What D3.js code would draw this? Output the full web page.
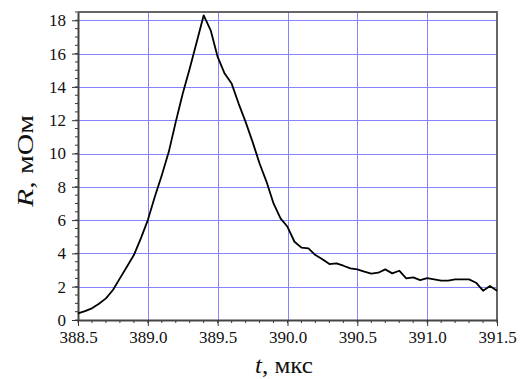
<!DOCTYPE html>
<html>
<head>
<meta charset="utf-8">
<script src="https://cdn.jsdelivr.net/npm/d3@7"></script>
<style>
  html, body { margin: 0; padding: 0; background: #fff; }
  svg text { font-family: "Liberation Serif", "Times New Roman", serif; fill: #111; }
</style>
</head>
<body>
<svg id="chart" width="528" height="379"></svg>
<script>
// Resistance pulse R(t), sampled every 0.05 µs
const times = [
  388.50, 388.55, 388.60, 388.65, 388.70, 388.75, 388.80, 388.85, 388.90, 388.95,
  389.00, 389.05, 389.10, 389.15, 389.20, 389.25, 389.30, 389.35, 389.40, 389.45,
  389.50, 389.55, 389.60, 389.65, 389.70, 389.75, 389.80, 389.85, 389.90, 389.95,
  390.00, 390.05, 390.10, 390.15, 390.20, 390.25, 390.30, 390.35, 390.40, 390.45,
  390.50, 390.55, 390.60, 390.65, 390.70, 390.75, 390.80, 390.85, 390.90, 390.95,
  391.00, 391.05, 391.10, 391.15, 391.20, 391.25, 391.30, 391.35, 391.40, 391.45,
  391.50
];
const resistance = [
  0.40, 0.53, 0.70, 0.98, 1.30, 1.80, 2.50, 3.20, 3.90, 4.90,
  6.00, 7.40, 8.70, 10.10, 11.90, 13.60, 15.10, 16.70, 18.30, 17.40,
  15.80, 14.80, 14.20, 13.00, 11.90, 10.70, 9.40, 8.30, 7.00, 6.10,
  5.60, 4.70, 4.35, 4.30, 3.90, 3.65, 3.36, 3.40, 3.26, 3.10,
  3.04, 2.90, 2.78, 2.84, 3.04, 2.80, 2.96, 2.50, 2.56, 2.40,
  2.52, 2.44, 2.36, 2.36, 2.44, 2.44, 2.44, 2.24, 1.76, 2.04,
  1.76
];
const xTicks = [388.5, 389.0, 389.5, 390.0, 390.5, 391.0, 391.5];
const yTicks = [0, 2, 4, 6, 8, 10, 12, 14, 16, 18];
const xLabel = ["t", ", мкс"];
const yLabel = ["R", ", мОм"];

const serif = "'Liberation Serif', 'Times New Roman', serif";
const svg = d3.select("#chart");
const plotL = 78, plotR = 497, plotT = 12, plotB = 320;

const x = d3.scaleLinear().domain([388.5, 391.5]).range([plotL, plotR]);
const y = d3.scaleLinear().domain([0, 18.5]).range([plotB, plotT]);

// grid
const grid = svg.append("g").attr("stroke", "#8585ff").attr("stroke-width", 1);
grid.selectAll("line.v").data(xTicks.slice(1, -1)).join("line")
  .attr("x1", d => Math.round(x(d)) + 0.5).attr("x2", d => Math.round(x(d)) + 0.5)
  .attr("y1", plotT).attr("y2", plotB);
grid.selectAll("line.h").data(yTicks.slice(1)).join("line")
  .attr("y1", d => Math.round(y(d)) + 0.5).attr("y2", d => Math.round(y(d)) + 0.5)
  .attr("x1", plotL).attr("x2", plotR);

// top and right frame
svg.append("path")
  .attr("d", `M${plotL},${plotT}H${plotR}V${plotB}`)
  .attr("fill", "none").attr("stroke", "#666").attr("stroke-width", 2);

// minor ticks
const xMinor = d3.range(388.5, 391.5001, 0.1).map(v => +v.toFixed(2));
const yMinor = d3.range(0, 18.5001, 0.5).map(v => +v.toFixed(2));

const xAxis = d3.axisBottom(x).tickValues(xTicks).tickFormat(d3.format(".1f"))
  .tickSizeInner(6).tickSizeOuter(0).tickPadding(5);
const yAxis = d3.axisLeft(y).tickValues(yTicks).tickFormat(d3.format("d"))
  .tickSizeInner(6).tickSizeOuter(0).tickPadding(6);

const gx = svg.append("g").attr("transform", `translate(0,${plotB})`);
gx.selectAll("line.minor").data(xMinor).join("line").attr("class", "minor")
  .attr("x1", d => x(d)).attr("x2", d => x(d)).attr("y1", 0).attr("y2", 3)
  .attr("stroke", "#333");
gx.call(xAxis);

const gy = svg.append("g").attr("transform", `translate(${plotL},0)`);
gy.selectAll("line.minor").data(yMinor).join("line").attr("class", "minor")
  .attr("y1", d => y(d)).attr("y2", d => y(d)).attr("x1", 0).attr("x2", -3)
  .attr("stroke", "#333");
gy.call(yAxis);

[gx, gy].forEach(g => {
  g.attr("font-family", serif);
  g.select(".domain").attr("stroke", "#444").attr("stroke-width", 2);
  g.selectAll(".tick line").attr("stroke", "#333");
  g.selectAll(".tick text").style("font-family", serif)
    .attr("font-size", 17).attr("fill", "#111");
});

// curve
svg.append("path")
  .datum(times.map((t, i) => [t, resistance[i]]))
  .attr("fill", "none").attr("stroke", "#000").attr("stroke-width", 1.8)
  .attr("stroke-linejoin", "round")
  .attr("d", d3.line().x(d => x(d[0])).y(d => y(d[1])));

// axis titles
const xt = svg.append("text").attr("x", 255).attr("y", 373)
  .style("font-family", serif).attr("font-size", 23)
  .attr("textLength", 58).attr("lengthAdjust", "spacingAndGlyphs");
xt.append("tspan").attr("font-style", "italic").text(xLabel[0]);
xt.append("tspan").text(xLabel[1]);

const yt = svg.append("text")
  .attr("transform", "translate(33,207) rotate(-90)")
  .style("font-family", serif).attr("font-size", 24)
  .attr("textLength", 92).attr("lengthAdjust", "spacingAndGlyphs");
yt.append("tspan").attr("font-style", "italic").text(yLabel[0]);
yt.append("tspan").text(yLabel[1]);
</script>
</body>
</html>
